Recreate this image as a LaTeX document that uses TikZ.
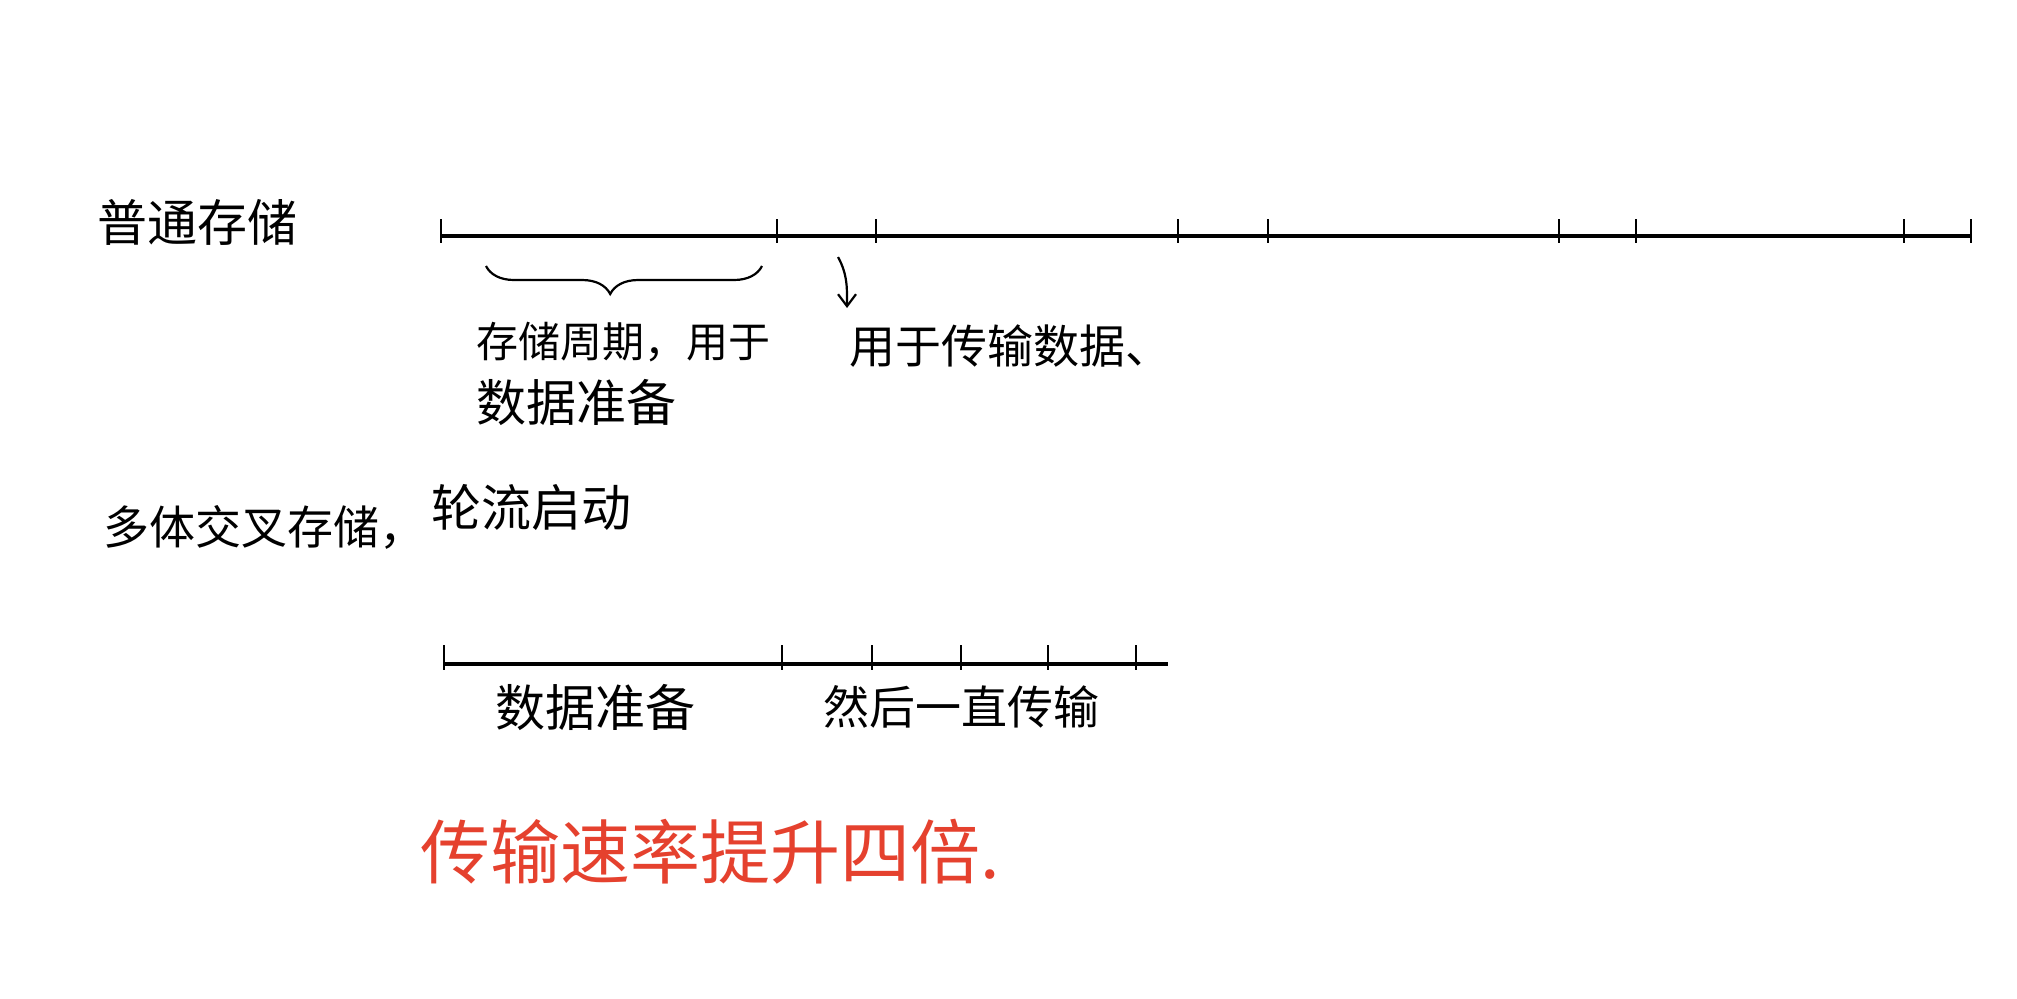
\documentclass[tikz,border=0pt]{standalone}
\usepackage{fontspec}
\newfontfamily\cjk{Noto Sans CJK SC}
\usetikzlibrary{decorations.pathreplacing,arrows.meta}
\definecolor{penred}{HTML}{E5412E}
\tikzset{
  hw/.style={font=\cjk\fontsize{23}{27}\selectfont, anchor=west, inner sep=0pt, text=black},
  hwsmall/.style={font=\cjk\fontsize{21}{25}\selectfont, anchor=west, inner sep=0pt, text=black},
  hwbig/.style={font=\cjk\fontsize{25}{29}\selectfont, anchor=west, inner sep=0pt, text=black},
  redtxt/.style={font=\cjk\fontsize{35}{41}\selectfont, anchor=west, inner sep=0pt, text=penred},
  axis/.style={line width=1.7pt, black},
  tick/.style={line width=1.1pt, black},
}
\begin{document}
\begin{tikzpicture}[x=0.5pt,y=-0.5pt]
\useasboundingbox[fill=white] (0,0) rectangle (2017,998);
% top timeline
\node[hwbig] (lbl1) at (97,222) {普通存储};
\coordinate (a0) at (441,236);
\coordinate (a9) at (1971,236);
\draw[axis] (a0) -- (a9);
\foreach \x in {441,777,876,1178,1268,1559,1636,1904,1971}{
  \draw[tick] (\x,219) -- (\x,243);
}
\draw[line width=1.1pt, decorate, decoration={brace, mirror, amplitude=14pt, aspect=0.45}] (486,266) -- (762,266);
\node[hwsmall] (t1) at (476,342) {存储周期，用于};
\node[hwbig] (t2) at (476,402) {数据准备};
\coordinate (arS) at (838,257);
\node[hw] (t3) at (849,346) {用于传输数据、};
\draw[line width=1.1pt, -{Straight Barb[length=6pt,width=9pt]}] (arS) .. controls (848,275) and (847,290) .. (847,308);
% bottom timeline
\node[hw] (lbl2) at (103,527) {多体交叉存储，};
\node[hwbig] (lbl3) at (431,507) {轮流启动};
\draw[axis] (444,664) -- (1168,664);
\foreach \x in {444,782,872,961,1048,1136}{
  \draw[tick] (\x,645) -- (\x,670);
}
\node[hwbig] (t4) at (495,707) {数据准备};
\node[hw] (t5) at (823,707) {然后一直传输};
\node[redtxt] (t6) at (420,852) {传输速率提升四倍.};
\end{tikzpicture}
\end{document}
